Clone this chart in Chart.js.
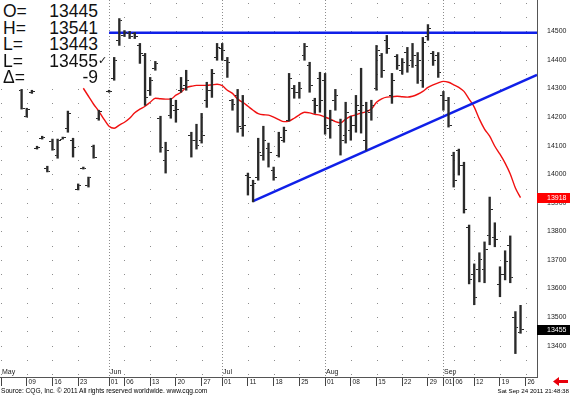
<!DOCTYPE html>
<html>
<head>
<meta charset="utf-8">
<title>CQG daily bars</title>
<script src="https://cdn.jsdelivr.net/npm/chart.js@4/dist/chart.umd.min.js"></script>
<style>
  body { margin: 0; background: #fff; }
  #wrap { position: relative; width: 570px; height: 396px; overflow: hidden; font-family: "Liberation Sans", Arial, sans-serif; }
  #c { position: absolute; left: 0; top: 0; }
  #info { position: absolute; left: 0; top: 0; width: 106px; height: 86px; background: #fff; padding-top: 3px; box-sizing: border-box; color: #111; font-size: 17.5px; line-height: 16.6px; }
  #info div { position: relative; height: 16.6px; }
  #info .k { position: absolute; left: 3px; }
  #info .v { position: absolute; right: 8px; }
  #info .ck { position: absolute; left: 98px; font-size: 11px; font-family: "DejaVu Sans", sans-serif; }
  #src { position: absolute; left: 1px; top: 387px; font-size: 6.6px; color: #000; white-space: nowrap; }
  #stamp { position: absolute; right: 1px; top: 387px; font-size: 6.2px; color: #000; white-space: nowrap; }
  #arrow { position: absolute; left: 553px; top: 377px; }
</style>
</head>
<body>
<div id="wrap">
  <canvas id="c" width="570" height="396"></canvas>
  <div id="info"></div>
  <div id="src">Source: CQG, Inc. &copy; 2011 All rights reserved worldwide. www.cqg.com</div>
  <div id="stamp">Sat Sep 24 2011 21:48:38</div>
  <svg id="arrow" width="16" height="9"><polygon points="0,4.5 6,0 6,3 15,3 15,6 6,6 6,9" fill="#e8000b"/></svg>
</div>
<script>
// trading day index: 0 = May 2 2011 ... 101 = Sep 23 2011 (no bar shown on 20)
var dayIdx = [];
for (let d = 4; d <= 101; d++) if (d !== 20) dayIdx.push(d);

var opens = [14294,14203,14287,14091,14126,14021,14116,14067,14123,14161,14119,13948,14021,13959,14098,14196,
  14290,14336,14469,14486,14493,14493,14451,14416,14294,14371,14196,14049,14206,14224,14294,14311,14137,14119,14119,
  14259,14294,14409,14440,14399,14259,14276,14161,13997,13962,13987,14067,14091,14014,14067,14119,14189,14301,14287,
  14416,14381,14259,14336,14329,14161,14259,14172,14137,14154,14172,14224,14119,14217,14301,14416,14469,14276,14412,
  14364,14426,14399,14381,14329,14482,14423,14416,14276,14259,14067,14084,14032,13812,13648,13665,13665,13787,13777,
  13613,13648,13752,13498,13445];
var highs = [14297,14231,14294,14098,14133,14028,14123,14123,14130,14221,14126,13966,14025,13990,14102,14224,
  14294,14409,14545,14503,14500,14496,14458,14423,14339,14395,14203,14112,14266,14259,14339,14364,14147,14175,14213,
  14322,14367,14458,14458,14409,14262,14297,14276,14004,13979,14126,14168,14109,14025,14147,14165,14353,14311,14322,
  14458,14392,14266,14357,14353,14224,14297,14193,14252,14203,14276,14371,14252,14259,14451,14423,14486,14353,14419,
  14405,14444,14458,14426,14479,14524,14430,14426,14290,14269,14077,14088,14042,13822,13686,13725,13763,13920,13830,
  13676,13732,13784,13519,13541];
var lows = [14228,14200,14283,14088,14123,14008,14084,14056,14123,14147,14060,13945,14018,13955,14056,14189,
  14287,14329,14451,14482,14475,14475,14388,14241,14276,14364,14077,14004,14196,14182,14287,14294,14060,14088,14109,
  14234,14269,14399,14399,14339,14224,14147,14133,13927,13903,13979,14049,14025,13979,14060,14112,14186,14266,14266,
  14399,14287,14213,14217,14140,14126,14224,14067,14109,14119,14147,14144,14084,14189,14294,14339,14423,14248,14367,
  14350,14357,14374,14318,14304,14469,14381,14339,14224,14165,13955,13997,13864,13616,13543,13623,13620,13753,13746,
  13571,13630,13620,13372,13443];
var closes = [14231,14228,14290,14095,14130,14011,14088,14119,14130,14214,14095,13962,14021,13987,14060,14221,
  14290,14399,14538,14496,14482,14482,14423,14269,14329,14388,14095,14084,14241,14228,14301,14329,14119,14102,14137,
  14294,14353,14444,14434,14392,14245,14168,14172,13987,13969,14077,14119,14077,13990,14130,14154,14336,14287,14301,
  14448,14311,14241,14259,14172,14189,14276,14119,14217,14172,14241,14241,14224,14241,14434,14364,14440,14329,14381,
  14392,14381,14416,14399,14461,14510,14399,14357,14259,14172,13979,14032,13875,13630,13568,13700,13735,13875,13770,
  13648,13693,13637,13464,13455];

// moving average (red), days 16..101
var maDays = [];
for (let d = 16; d <= 101; d++) maDays.push(d);
var maValues = [14301,14273,14245,14221,14193,14168,14161,14172,14182,14196,14215,14228,14238,14252,14266,14264,
  14263,14263,14277,14287,14303,14308,14311,14311,14311,14313,14315,14310,14294,14283,14263,14252,14238,14224,14212,
  14208,14207,14200,14191,14184,14186,14196,14208,14217,14215,14210,14207,14200,14193,14184,14180,14193,14203,14208,
  14214,14219,14228,14252,14264,14270,14271,14273,14271,14270,14273,14280,14290,14304,14313,14320,14325,14322,14313,
  14304,14290,14263,14235,14193,14158,14133,14098,14070,14039,14001,13952,13918];

// blue drawn lines
var resistDays = [21, 104.2];
var resistValues = [14495, 14495];
var trendDays = [49, 104.2];
var trendValues = [13906, 14348];

var xTickIdx = [0,5,10,15,21,24,29,34,39,43,48,53,58,63,68,73,78,83,86,88,92,97,102];
var xTickLbl = ['','09','16','23','01','06','13','20','27','01','11','18','25','01','08','15','22','29','01','06','12','19','26'];
var monthIdx = [0,21,43,63,86];
var monthLbl = ['May','Jun','Jul','Aug','Sep'];
var dotCols = [0,5,10,15,24,29,34,39,48,53,58,68,73,78,83,88,92,97,102];
var yTicks = [13400,13500,13600,13700,13800,13900,14000,14100,14200,14300,14400,14500];

// info box from the last bar
var n = closes.length - 1;
var info = [
  ['O=', opens[n]], ['H=', highs[n]], ['L=', lows[n]], ['L=', closes[n]], ['\u0394=', closes[n] - closes[n - 1]]
];
document.getElementById('info').innerHTML = info.map(function (r, i) {
  return '<div><span class="k">' + r[0] + '</span><span class="v">' + r[1] + '</span>' +
    (i === 3 ? '<span class="ck">\u2713</span>' : '') + '</div>';
}).join('');

function tickImg(left) {
  const c = document.createElement('canvas');
  c.width = 6; c.height = 1;
  const g = c.getContext('2d');
  g.fillStyle = '#2a2a2a';
  g.fillRect(left ? 0 : 4, 0, 2, 1);
  return c;
}

const cqgGrid = {
  id: 'cqgGrid',
  beforeDatasetsDraw(chart) {
    const { ctx, chartArea: a, scales: { x, y } } = chart;
    ctx.save();
    ctx.fillStyle = '#8c8c8c';
    for (let v = 13300; v <= 14600; v += 50) {
      const py = Math.round(y.getPixelForValue(v));
      if (py < a.top || py > a.bottom) continue;
      dotCols.forEach(function (d) {
        ctx.fillRect(Math.round(x.getPixelForValue(d)), py, 1, 1);
      });
    }
    monthIdx.forEach(function (d, k) {
      if (k === 0) return;
      const px = Math.round(x.getPixelForValue(d));
      for (let py = a.top; py < a.bottom; py += 3) ctx.fillRect(px, py, 1, 1);
    });
    ctx.restore();
  },
  afterDraw(chart) {
    const { ctx, chartArea: a, scales: { x, y } } = chart;
    ctx.save();
    ctx.font = '7px "Liberation Sans", Arial, sans-serif';
    ctx.fillStyle = '#222';
    ctx.textBaseline = 'bottom';
    monthIdx.forEach(function (d, k) {
      ctx.fillText(monthLbl[k], Math.round(x.getPixelForValue(d)) + 1, a.bottom - 1);
    });
    const boxes = [
      { v: maValues[maValues.length - 1], bg: '#ff0000', fg: '#ffffff' },
      { v: closes[n], bg: '#000000', fg: '#ffffff' }
    ];
    ctx.textBaseline = 'middle';
    boxes.forEach(function (b) {
      const py = Math.round(y.getPixelForValue(b.v));
      ctx.fillStyle = b.bg;
      ctx.fillRect(a.right, py - 5, chart.width - a.right, 10);
      ctx.fillStyle = b.fg;
      ctx.fillText(String(b.v), a.right + 10, py + 0.5);
    });
    ctx.restore();
  }
};

const ctx = document.getElementById('c');

const data = {
  datasets: [
    {
      type: 'bar',
      label: 'range',
      data: dayIdx.map(function (d, i) { return { x: d, y: [lows[i], highs[i]] }; }),
      backgroundColor: '#2a2a2a',
      barThickness: 1.7,
      order: 3
    },
    {
      type: 'scatter',
      label: 'open',
      data: dayIdx.map(function (d, i) { return { x: d, y: opens[i] }; }),
      pointStyle: tickImg(true),
      pointRadius: 3,
      order: 2
    },
    {
      type: 'scatter',
      label: 'close',
      data: dayIdx.map(function (d, i) { return { x: d, y: closes[i] }; }),
      pointStyle: tickImg(false),
      pointRadius: 3,
      order: 2
    },
    {
      type: 'line',
      label: 'average',
      data: maDays.map(function (d, i) { return { x: d, y: maValues[i] }; }),
      borderColor: '#f01010',
      borderWidth: 1.4,
      pointRadius: 0,
      cubicInterpolationMode: 'monotone',
      order: 5
    },
    {
      type: 'line',
      label: 'resistance',
      data: resistDays.map(function (d, i) { return { x: d, y: resistValues[i] }; }),
      borderColor: '#1020e8',
      borderWidth: 2.5,
      pointRadius: 0,
      order: 4
    },
    {
      type: 'line',
      label: 'trend',
      data: trendDays.map(function (d, i) { return { x: d, y: trendValues[i] }; }),
      borderColor: '#1020e8',
      borderWidth: 2.5,
      pointRadius: 0,
      order: 4
    }
  ]
};

const config = {
  type: 'bar',
  data: data,
  plugins: [cqgGrid],
  options: {
    responsive: false,
    animation: false,
    events: [],
    layout: { padding: 0, autoPadding: false },
    plugins: { legend: { display: false }, tooltip: { enabled: false } },
    scales: {
      x: {
        type: 'linear',
        min: -0.2,
        max: 104.2,
        offset: false,
        afterBuildTicks: function (s) { s.ticks = xTickIdx.map(function (v) { return { value: v }; }); },
        afterFit: function (s) { s.height = 19; s.paddingLeft = 0; s.paddingRight = 0; },
        grid: { offset: false, drawOnChartArea: false, drawTicks: true, tickLength: 9, tickColor: '#444', tickWidth: 1 },
        border: { display: true, color: '#555', width: 1 },
        ticks: {
          autoSkip: false, maxRotation: 0, align: 'start', padding: -8,
          color: '#222', font: { size: 6.5, family: '"Liberation Sans", Arial, sans-serif' },
          callback: function (v, i) { return ' ' + xTickLbl[i]; }
        }
      },
      y: {
        position: 'right',
        min: 13290,
        max: 14610,
        afterBuildTicks: function (s) { s.ticks = yTicks.map(function (v) { return { value: v }; }); },
        afterFit: function (s) { s.width = 33; s.paddingTop = 0; s.paddingBottom = 0; },
        grid: { display: true, drawOnChartArea: false, drawTicks: false },
        border: { display: true, color: '#555', width: 1 },
        ticks: {
          padding: 10, color: '#222',
          font: { size: 7, family: '"Liberation Sans", Arial, sans-serif' },
          callback: function (v) { return String(v); }
        }
      }
    }
  }
};

const myChart = new Chart(ctx, config);
</script>
</body>
</html>
